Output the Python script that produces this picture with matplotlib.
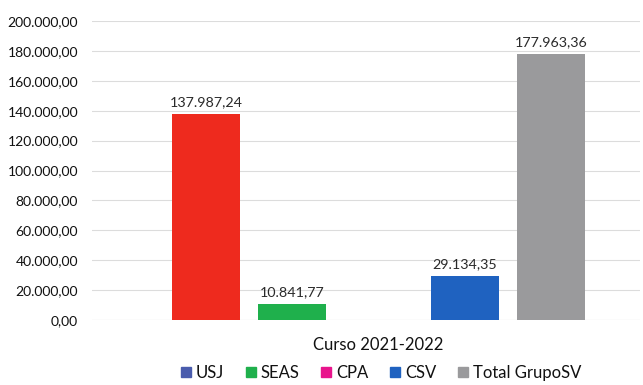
import matplotlib.pyplot as plt
import numpy as np

plt.rcParams['font.family'] = ['Lato', 'DejaVu Sans']

series = ["USJ", "SEAS", "CPA", "CSV", "Total GrupoSV"]
values = [137987.24, 10841.77, 0.0, 29134.35, 177963.36]
bar_colors = ["#ee2a1e", "#1fb04c", "#e8148c", "#1f62c0", "#9a9a9c"]
legend_colors = ["#4a5cad", "#1fb04c", "#e8148c", "#1f62c0", "#9a9a9c"]
category = "Curso 2021-2022"
yticks = np.arange(0, 200001, 20000)


def fmt(v):
    s = f"{v:,.2f}"
    return s.replace(",", "X").replace(".", ",").replace("X", ".")


fig = plt.figure(figsize=(6.43, 3.85), dpi=100)
ax = fig.add_axes([92 / 643, 1 - 320 / 385, 548 / 643, 299 / 385])

pos = np.arange(len(series)) - 2
for p, v, c in zip(pos, values, bar_colors):
    ax.bar(p, v, width=0.79, color=c, zorder=3)
    if v > 0:
        ax.text(p, v + 4000, fmt(v), ha="center", va="bottom",
                fontsize=10.3, color="#2a2a2a")

ax.set_xlim((92 - 378.5) / 86.25, (640 - 378.5) / 86.25)
ax.set_ylim(0, 200000)
ax.set_yticks(yticks)
ax.set_yticklabels([fmt(t) for t in yticks], fontsize=10, color="#111111")
ax.set_xticks([0])
ax.set_xticklabels([category], fontsize=12, color="#111111")
ax.tick_params(axis="both", length=0)
ax.tick_params(axis="y", pad=10)
ax.tick_params(axis="x", pad=12)
ax.grid(axis="y", color="#dcdcdc", linewidth=0.8, zorder=0)
for s in ax.spines.values():
    s.set_visible(False)
ax.axhline(0, color="#dcdcdc", linewidth=0.8, zorder=2)

handles = [plt.Rectangle((0, 0), 1, 1, color=c) for c in legend_colors]
fig.legend(handles, series, loc="center", bbox_to_anchor=(381 / 643, 1 - 373 / 385),
           ncol=5, frameon=False, fontsize=12, handlelength=0.6, handleheight=0.6,
           handletextpad=0.3, columnspacing=1.3, labelcolor="#111111")

fig.savefig("out.png", dpi=100, facecolor="white")
